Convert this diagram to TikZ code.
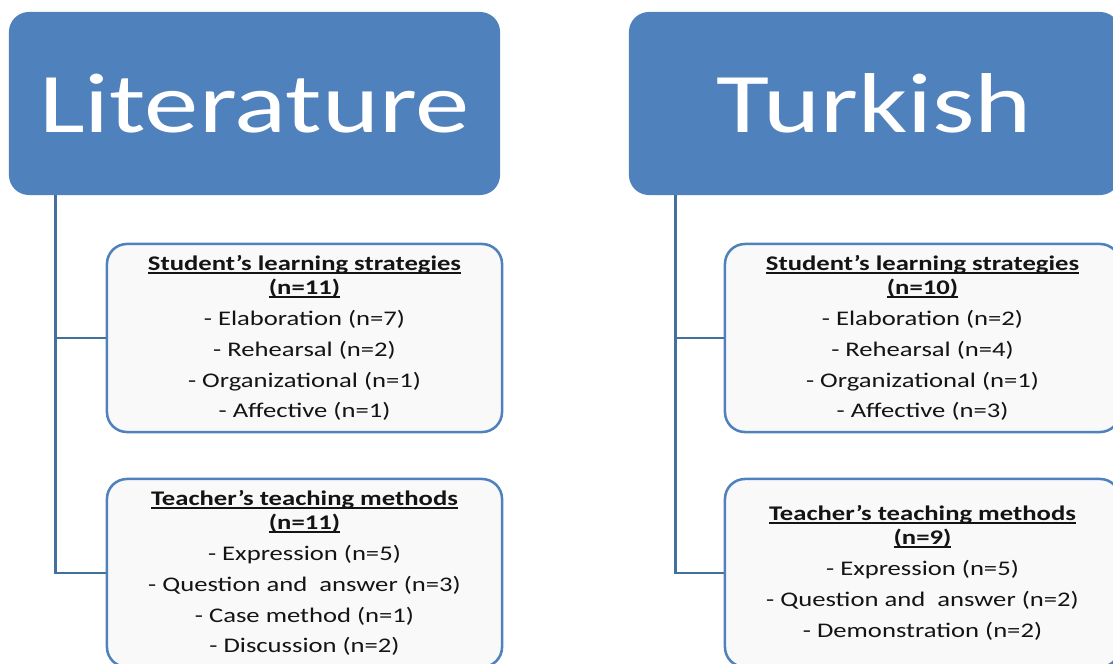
\documentclass[tikz,border=0pt]{standalone}
\usepackage{fontspec}
\setmainfont{Carlito}[FakeStretch=1.28]
\usetikzlibrary{positioning}

\definecolor{hdblue}{HTML}{4F81BD}
\definecolor{lineblue}{HTML}{41719C}
\definecolor{boxfill}{HTML}{F9F9F9}

\newsavebox\headbox
\newcommand\ulhead[1]{\sbox\headbox{\bfseries #1}\rlap{\rule[-2.5pt]{\wd\headbox}{1.3pt}}\usebox\headbox}

\tikzset{
	subject/.style={rectangle, rounded corners=0.5cm, fill=hdblue, text=white,
		minimum width=12.275cm, minimum height=4.575cm, inner sep=0pt,
		font=\fontsize{60.4}{60}\selectfont},
	group/.style={rectangle, rounded corners=0.5cm, draw=hdblue, line width=1.8pt,
		fill=boxfill, minimum width=9.875cm, minimum height=4.7cm, inner sep=0pt,
		align=center, text=black!92, font=\fontsize{14.8}{22}\selectfont},
	link/.style={draw=lineblue, line width=1.8pt}
}

\begin{document}
\begin{tikzpicture}[x=0.025cm, y=-0.025cm]
			%%%%% START %%%%%
			\useasboundingbox (0, 0) rectangle (1113, 664);
			\clip (0, 0) rectangle (1113, 664);
			
			% Literature
			\node[subject] (lit) at (254.5, 103.5) {Literature};
			\node[group] (litS) at (304.5, 338) {\ulhead{Student’s learning strategies}\\[-5pt]
				\ulhead{(n=11)}\\
				- Elaboration (n=7)\\
				- Rehearsal (n=2)\\
				- Organizational (n=1)\\
				- Affective (n=1)};
			\node[group] (litT) at (304.5, 573) {\ulhead{Teacher’s teaching methods}\\[-5pt]
				\ulhead{(n=11)}\\
				- Expression (n=5)\\
				- Question and~ answer (n=3)\\
				- Case method (n=1)\\
				- Discussion (n=2)};
			
			\coordinate (litroot) at ([xshift=1.175cm]lit.south west);
			\draw[link] (litroot) |- (litT.west);
			\draw[link] (litroot |- litS.west) -- (litS.west);
			
			% Turkish
			\node[subject] (tur) at (874.5, 103.5) {Turkish};
			\node[group] (turS) at (922.5, 338) {\ulhead{Student’s learning strategies}\\[-5pt]
				\ulhead{(n=10)}\\
				- Elaboration (n=2)\\
				- Rehearsal (n=4)\\
				- Organizational (n=1)\\
				- Affective (n=3)};
			\node[group] (turT) at (922.5, 573) {\ulhead{Teacher’s teaching methods}\\[-5pt]
				\ulhead{(n=9)}\\
				- Expression (n=5)\\
				- Question and~ answer (n=2)\\
				- Demonstration (n=2)};
			
			\coordinate (turroot) at ([xshift=1.175cm]tur.south west);
			\draw[link] (turroot) |- (turT.west);
			\draw[link] (turroot |- turS.west) -- (turS.west);
			
			%%%%% END %%%%%
\end{tikzpicture}
\end{document}
